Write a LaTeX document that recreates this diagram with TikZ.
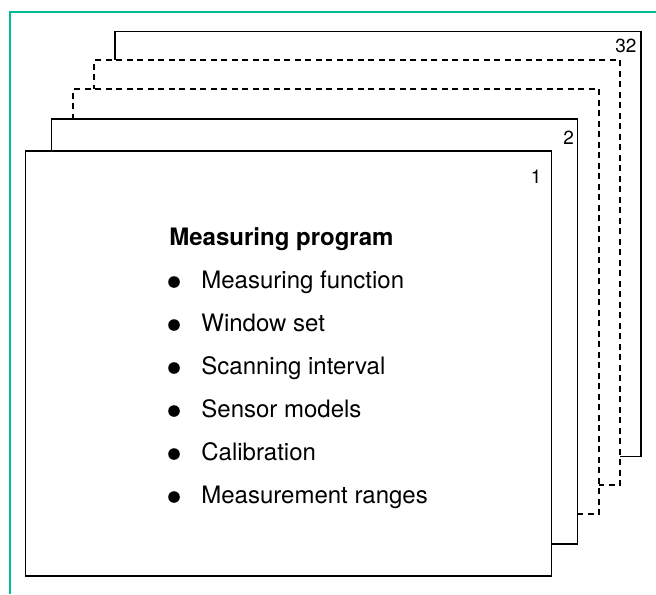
\documentclass[tikz,border=0pt]{standalone}
\usepackage{fontspec}
\setmainfont{TeX Gyre Heros}
\usepackage{xcolor}
\usetikzlibrary{positioning}
\definecolor{frameteal}{RGB}{0,186,150}
\tikzset{
    sheet-box/.style = {draw=black, fill=white, line width=0.9pt, rectangle, minimum width=263pt, minimum height=212.5pt, inner sep=0pt},
    sheet-box-dashed/.style = {sheet-box, dash pattern=on 3pt off 2.25pt},
    sheet-number/.style = {font=\fontsize{9.5}{9.5}\selectfont, inner sep=0pt, anchor=base east},
    list-head/.style = {font=\bfseries\fontsize{12}{14}\selectfont, inner sep=0pt, anchor=base west},
    list-item/.style = {font=\fontsize{12}{14}\selectfont, inner sep=0pt, anchor=base west},
}

\begin{document}
\begin{tikzpicture}[x=0.5pt, y=-0.5pt]
\useasboundingbox (0,0) rectangle (656,594);
\draw[frameteal, line width=0.75pt] (656,12) -- (10,12) -- (10,594);

% stack of sheets, back to front
\node[sheet-box] (sheet32) at (378,244) {};
\node[sheet-box-dashed] (sheet4) at (357,272.5) {};
\node[sheet-box-dashed] (sheet3) at (336,301.5) {};
\node[sheet-box] (sheet2) at (314.5,331.5) {};
\node[sheet-box] (sheet1) at (288.5,363.5) {};

\node[sheet-number] at ([xshift=-2.5pt, yshift=-11pt]sheet32.north east) {32};
\node[sheet-number] at ([xshift=-2pt, yshift=-13pt]sheet2.north east) {2};
\node[sheet-number] at ([xshift=-5.25pt, yshift=-16.5pt]sheet1.north east) {1};

% contents of sheet 1
\node[list-head] (title) at (169,245) {Measuring program};
\foreach \entry [count=\i] in {Measuring function, Window set, Scanning interval, Sensor models, Calibration, Measurement ranges} {
    \node[list-item] (item\i) at (201,245+43*\i) {\entry};
    \fill ([xshift=-13.5pt, yshift=3pt]item\i.base west) circle[radius=2.9pt];
}
\end{tikzpicture}
\end{document}
